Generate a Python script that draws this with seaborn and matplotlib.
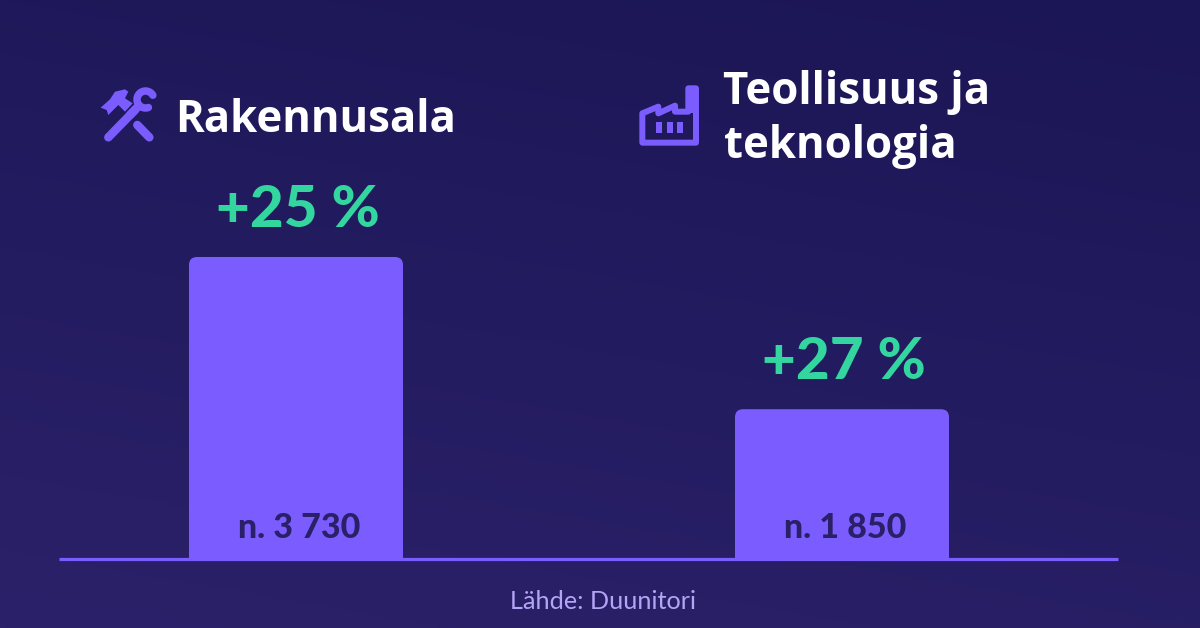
import numpy as np
import pandas as pd
import seaborn as sns
import matplotlib
matplotlib.use("Agg")
import matplotlib.pyplot as plt
from matplotlib.patches import FancyBboxPatch, Polygon, Rectangle
from matplotlib.transforms import IdentityTransform

categories = ["Rakennusala", "Teollisuus ja\nteknologia"]
values = [3730, 1850]
growth = ["+25 %", "+27 %"]
value_labels = ["n. 3 730", "n. 1 850"]
source = "Lähde: Duunitori"

BAR = "#7B5CFF"; GREEN = "#33D69F"; DARK = "#2A2068"; FOOT = "#B3A4F5"
FONT = "Lato"
HEAD = "Open Sans"

sns.set_theme(style="white")
plt.rcParams["font.family"] = [FONT, "DejaVu Sans"]
W, H = 1200, 628
fig = plt.figure(figsize=(12, 6.28), dpi=100)

bg = fig.add_axes([0, 0, 1, 1], zorder=0); bg.axis("off")
yy, xx = np.mgrid[0:1:200j, 0:1:200j]
t = np.clip(0.75 * yy + 0.25 * (1 - xx), 0, 1)
c0 = np.array([0x1B, 0x16, 0x55]) / 255; c1 = np.array([0x2B, 0x21, 0x6A]) / 255
bg.imshow(c0 + (c1 - c0) * t[..., None], aspect="auto", extent=[0, 1, 0, 1], origin="upper")

ax = fig.add_axes([59 / W, (H - 559) / H, (1118 - 59) / W, 559 / H], zorder=1)
ax.patch.set_alpha(0)
df = pd.DataFrame({"cat": categories, "val": values})
sns.barplot(data=df, x="cat", y="val", color=BAR, saturation=1, width=214 / 546, ax=ax)
ax.set_xlim((59 - 296) / 546, (1118 - 296) / 546)
ax.set_ylim(0, 559 / 302 * values[0])
ax.set(xlabel="", ylabel="", xticks=[], yticks=[])
for s in ["top", "left", "right"]:
    ax.spines[s].set_visible(False)
sp = ax.spines["bottom"]
sp.set_color(BAR); sp.set_linewidth(2.3); sp.set_capstyle("butt")

fig.canvas.draw()
for p in ax.patches:
    bb = p.get_window_extent()
    clip = FancyBboxPatch((bb.x0, bb.y0 - 30), bb.width, bb.height + 30,
                          boxstyle="round,pad=0,rounding_size=8", transform=IdentityTransform())
    p.set_clip_path(clip)
    p.set_linewidth(0)

for i, (v, g, lab) in enumerate(zip(values, growth, value_labels)):
    ax.annotate(g, (i, v), xytext=(1, 21.5), textcoords="offset points", ha="center", va="baseline",
                color=GREEN, fontsize=42, fontweight="black")
    ax.annotate(lab, (i, 0), xytext=(2.2, 15), textcoords="offset points", ha="center", va="baseline",
                color=DARK, fontsize=24.5, fontweight="black")

ov = fig.add_axes([0, 0, 1, 1], zorder=2); ov.axis("off")
ov.set_xlim(0, W); ov.set_ylim(H, 0); ov.patch.set_alpha(0)
ov.text(175, 132, categories[0], color="white", fontsize=31.5, fontweight="bold", va="baseline", family=HEAD)
t1, t2 = categories[1].split("\n")
ov.text(723, 104, t1, color="white", fontsize=31.5, fontweight="bold", va="baseline", family=HEAD)
ov.text(724, 158, t2, color="white", fontsize=31.5, fontweight="bold", va="baseline", family=HEAD)
ov.text(602.5, 609, source, color=FOOT, fontsize=18.2, ha="center", va="baseline", fontweight="normal")

px = 0.72
def zl(pts, ox, oy):
    return [(x / 3 + ox, y / 3 + oy) for x, y in pts]
ov.plot(*zip(*zl([(85, 232), (165, 150)], 80, 60)), color=BAR, lw=8.5 * px, solid_capstyle="round")
ov.plot(*zip(*zl([(172, 195), (208, 232)], 80, 60)), color=BAR, lw=8.5 * px, solid_capstyle="round")
ov.add_patch(Polygon(zl([(62, 143), (90, 118), (105, 95), (135, 88), (145, 95), (135, 115), (158, 130),
                         (135, 155), (115, 135), (85, 165), (80, 150)], 80, 60), color=BAR, lw=0))
ang = np.radians(np.linspace(70, 330, 30))
cx, cy, r = 145.5, 99.5, 8.5
ov.plot(cx + r * np.cos(ang), cy + r * np.sin(ang), color=BAR, lw=7.5 * px, solid_capstyle="round")
ov.plot(*zip(*zl([(150, 165), (172, 142)], 80, 60)), color=BAR, lw=8.5 * px, solid_capstyle="round")
ov.add_patch(Polygon(zl([(67, 160), (115, 140), (115, 160), (165, 137), (165, 155), (205, 155), (205, 85),
                         (228, 85), (228, 248), (67, 248)], 620, 60), closed=True, fill=False,
                     edgecolor=BAR, lw=6 * px, joinstyle="round"))
ov.add_patch(Polygon(zl([(205, 85), (228, 85), (228, 160), (205, 160)], 620, 60), color=BAR, lw=0))
for a, b in [(107, 125), (140, 158), (172, 190)]:
    ov.add_patch(Rectangle((a / 3 + 620, 185 / 3 + 60), (b - a) / 3, 35 / 3, color=BAR, lw=0))

fig.savefig("out.png", dpi=100)
